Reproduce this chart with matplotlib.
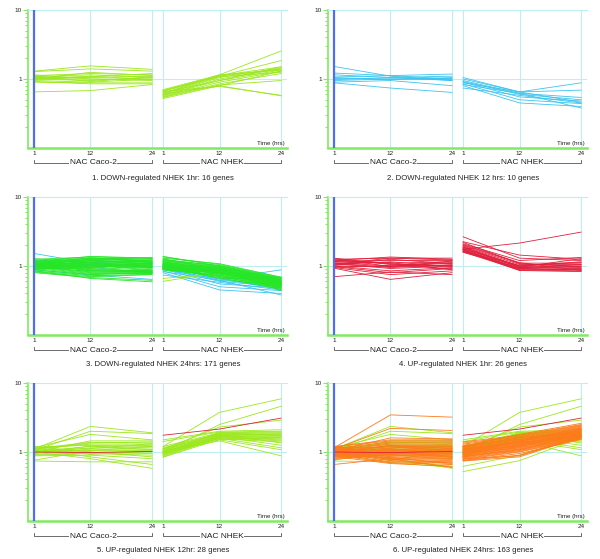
import matplotlib
matplotlib.use("Agg")
import matplotlib.pyplot as plt
from matplotlib.ticker import LogLocator, NullFormatter

plt.rcParams['font.family'] = ['Liberation Sans', 'DejaVu Sans']

# time points (hrs) and the shift that puts the NHEK block right of Caco-2
hours = [1, 12, 24]
NHEK_SHIFT = 25.15

# each row = one gene: Caco-2 (1, 12, 24 h) then NHEK (1, 12, 24 h), fold change
down_1hr = [
    [1.30, 1.55, 1.38, 0.62, 1.15, 2.55],
    [1.28, 1.40, 1.30, 0.66, 1.10, 1.85],
    [1.12, 1.20, 1.15, 0.68, 1.12, 1.50],
    [1.08, 1.15, 1.05, 0.60, 1.05, 1.45],
    [1.05, 1.05, 1.10, 0.58, 1.00, 1.40],
    [1.02, 1.00, 1.00, 0.64, 0.95, 1.35],
    [1.00, 0.95, 1.05, 0.56, 0.90, 1.30],
    [0.98, 1.10, 0.98, 0.62, 1.08, 1.25],
    [0.95, 0.90, 1.00, 0.55, 0.85, 1.20],
    [0.92, 0.85, 0.85, 0.52, 0.80, 1.30],
    [1.15, 1.00, 0.95, 0.66, 0.78, 0.58],
    [1.10, 0.92, 1.08, 0.60, 0.80, 0.57],
    [0.65, 0.68, 0.83, 0.54, 0.82, 0.95],
    [1.05, 1.08, 1.20, 0.68, 1.10, 1.40],
    [0.90, 0.88, 0.88, 0.58, 0.95, 1.50],
    [1.00, 1.25, 1.12, 0.70, 1.15, 1.35],
]

down_12hr = [
    [1.52, 1.10, 0.95, 1.05, 0.65, 0.88],
    [1.22, 1.12, 1.18, 1.00, 0.65, 0.69],
    [1.15, 1.05, 1.10, 0.95, 0.62, 0.54],
    [1.07, 1.12, 1.00, 0.92, 0.60, 0.50],
    [1.02, 1.00, 1.02, 0.90, 0.55, 0.48],
    [0.98, 1.05, 0.95, 0.88, 0.65, 0.46],
    [0.90, 0.95, 0.80, 0.85, 0.50, 0.44],
    [0.88, 0.74, 0.64, 0.80, 0.45, 0.40],
    [1.05, 0.98, 1.05, 0.74, 0.58, 0.45],
    [0.95, 1.00, 0.98, 0.83, 0.62, 0.38],
]

down_24hr = [
    [1.25, 1.35, 1.30, 1.35, 1.05, 0.68],
    [1.20, 1.30, 1.25, 1.25, 1.00, 0.66],
    [1.15, 1.28, 1.20, 1.20, 0.98, 0.65],
    [1.12, 1.25, 1.18, 1.15, 0.95, 0.64],
    [1.10, 1.20, 1.15, 1.12, 0.92, 0.62],
    [1.08, 1.18, 1.12, 1.10, 0.90, 0.60],
    [1.05, 1.15, 1.10, 1.08, 0.88, 0.58],
    [1.02, 1.12, 1.08, 1.05, 0.86, 0.57],
    [1.00, 1.10, 1.05, 1.02, 0.85, 0.56],
    [0.98, 1.08, 1.02, 1.00, 0.84, 0.55],
    [0.95, 1.05, 1.00, 0.98, 0.82, 0.54],
    [0.92, 1.02, 0.98, 0.96, 0.80, 0.53],
    [0.90, 1.00, 0.95, 0.94, 0.78, 0.52],
    [1.10, 0.88, 0.85, 1.05, 0.95, 0.62],
    [1.05, 0.85, 0.83, 1.00, 0.90, 0.60],
    [1.00, 0.82, 0.82, 0.98, 0.88, 0.59],
    [0.98, 0.80, 0.80, 0.95, 0.86, 0.58],
    [0.95, 0.78, 0.79, 0.93, 0.84, 0.56],
    [0.92, 0.76, 0.78, 0.92, 0.82, 0.55],
    [0.88, 0.75, 0.80, 0.90, 0.80, 0.54],
    [0.85, 0.72, 0.76, 0.88, 0.76, 0.52],
    [0.82, 0.70, 0.75, 0.90, 0.72, 0.50],
    [0.80, 0.68, 0.62, 0.95, 0.70, 0.48],
    [0.85, 0.66, 0.59, 0.92, 0.68, 0.46],
    [1.28, 1.10, 0.95, 1.30, 1.08, 0.69],
    [1.18, 1.02, 0.88, 1.22, 1.02, 0.67],
    [0.95, 1.20, 1.28, 1.18, 0.96, 0.63],
    [0.88, 1.15, 1.22, 1.12, 0.93, 0.61],
    [1.12, 0.95, 1.10, 1.06, 0.87, 0.60],
    [1.00, 0.92, 1.12, 1.04, 0.83, 0.58],
    [1.06, 1.00, 0.92, 1.00, 0.79, 0.57],
    [0.93, 0.95, 0.87, 0.97, 0.77, 0.55],
    [1.15, 1.38, 1.30, 1.38, 1.00, 0.63],
    [1.03, 1.25, 1.32, 1.10, 0.74, 0.51],
    [0.97, 0.90, 0.84, 1.02, 0.70, 0.50],
    [1.08, 0.86, 0.81, 0.99, 0.66, 0.49],
    [0.90, 1.05, 0.99, 0.89, 0.73, 0.53],
    [1.02, 1.32, 1.15, 0.91, 0.81, 0.60],
    [0.96, 0.84, 0.86, 1.16, 0.85, 0.47],
    [1.14, 1.22, 1.06, 1.27, 0.89, 0.44],
]

up_1hr = [
    [1.30, 1.05, 1.00, 2.65, 1.30, 1.20],
    [1.25, 1.30, 1.30, 2.25, 1.44, 1.25],
    [1.20, 1.35, 1.25, 2.10, 1.20, 1.33],
    [1.18, 1.20, 1.20, 2.00, 1.10, 1.10],
    [1.15, 1.10, 1.15, 1.95, 1.05, 1.05],
    [1.12, 1.00, 1.10, 1.90, 1.00, 1.00],
    [1.10, 0.95, 1.05, 1.85, 0.98, 0.95],
    [1.08, 0.92, 1.00, 1.80, 0.95, 0.92],
    [1.05, 1.15, 0.98, 1.78, 1.00, 1.15],
    [1.02, 1.25, 1.08, 1.75, 0.92, 0.90],
    [1.00, 0.85, 0.95, 1.72, 0.90, 0.88],
    [0.98, 0.80, 0.92, 1.70, 0.88, 0.85],
    [0.95, 0.75, 0.85, 1.68, 0.86, 0.83],
    [0.93, 0.64, 0.80, 1.65, 0.92, 1.00],
    [0.70, 0.82, 0.75, 1.62, 1.02, 1.12],
    [1.22, 1.08, 0.90, 1.60, 0.87, 0.90],
    [1.28, 0.98, 1.18, 2.20, 1.08, 0.98],
    [1.16, 1.12, 0.88, 1.88, 0.96, 1.28],
    [1.06, 1.30, 1.22, 2.05, 1.12, 0.86],
    [0.96, 1.02, 1.12, 1.58, 0.94, 1.05],
    [1.00, 0.98, 1.02, 1.75, 2.15, 3.10],
]

up_12hr = [
    [1.10, 2.35, 1.90, 1.20, 3.75, 5.90],
    [1.05, 2.00, 1.85, 1.00, 2.50, 4.60],
    [1.15, 1.80, 1.50, 1.10, 2.30, 2.90],
    [1.00, 1.45, 1.45, 1.50, 2.00, 2.10],
    [1.08, 1.35, 1.40, 1.42, 1.95, 2.00],
    [1.12, 1.30, 1.30, 1.20, 1.90, 1.95],
    [1.18, 1.25, 1.20, 1.15, 1.85, 1.90],
    [1.02, 1.20, 1.25, 1.10, 1.80, 1.85],
    [0.98, 1.15, 1.15, 1.05, 1.78, 1.80],
    [0.95, 1.10, 1.10, 1.00, 1.75, 1.75],
    [1.06, 1.05, 1.05, 0.98, 1.72, 1.70],
    [1.04, 1.00, 1.00, 0.95, 1.70, 1.65],
    [0.92, 0.98, 0.95, 0.92, 1.68, 1.60],
    [0.90, 0.95, 0.90, 0.90, 1.65, 1.55],
    [1.20, 1.00, 0.85, 0.88, 1.62, 1.50],
    [0.88, 0.90, 0.80, 0.85, 1.60, 1.45],
    [0.74, 0.72, 0.72, 1.05, 1.55, 1.40],
    [1.10, 0.85, 0.66, 1.00, 1.58, 1.15],
    [1.00, 0.80, 0.58, 0.95, 1.50, 1.08],
    [0.76, 1.05, 1.20, 1.02, 1.45, 0.88],
    [1.12, 1.38, 1.35, 1.12, 1.82, 1.35],
    [0.96, 1.22, 1.08, 0.84, 1.52, 1.62],
    [1.06, 1.12, 1.32, 1.08, 1.68, 1.25],
    [1.14, 0.92, 1.02, 0.96, 1.92, 1.72],
]

up_24hr_extra_yg = [
    [1.00, 0.75, 0.62, 0.52, 0.75, 1.60],
    [0.95, 0.70, 0.60, 0.62, 0.90, 1.75],
]

up_24hr = [
    [1.15, 3.45, 3.20, 1.20, 1.80, 2.60],
    [1.10, 2.20, 2.05, 1.40, 1.75, 2.50],
    [1.05, 1.60, 1.55, 1.35, 1.70, 2.45],
    [1.20, 1.50, 1.50, 1.30, 1.65, 2.40],
    [1.18, 1.45, 1.45, 1.25, 1.60, 2.35],
    [1.12, 1.40, 1.40, 1.20, 1.55, 2.30],
    [1.08, 1.35, 1.35, 1.18, 1.50, 2.25],
    [1.05, 1.30, 1.30, 1.15, 1.45, 2.20],
    [1.02, 1.25, 1.25, 1.12, 1.42, 2.15],
    [1.00, 1.20, 1.20, 1.10, 1.40, 2.10],
    [0.98, 1.15, 1.18, 1.08, 1.38, 2.05],
    [0.95, 1.10, 1.15, 1.05, 1.35, 2.00],
    [0.92, 1.08, 1.10, 1.02, 1.32, 1.95],
    [0.90, 1.05, 1.05, 1.00, 1.30, 1.90],
    [0.88, 1.02, 1.00, 0.98, 1.28, 1.85],
    [0.85, 1.00, 0.98, 0.96, 1.25, 1.80],
    [0.82, 0.98, 0.95, 0.94, 1.22, 1.78],
    [0.80, 0.95, 0.92, 0.92, 1.20, 1.75],
    [0.78, 0.92, 0.90, 0.90, 1.18, 1.72],
    [1.22, 0.90, 0.88, 0.88, 1.15, 1.70],
    [1.20, 0.88, 0.85, 0.86, 1.12, 1.68],
    [1.16, 0.85, 0.82, 0.85, 1.10, 1.65],
    [1.10, 0.82, 0.80, 0.84, 1.08, 1.62],
    [1.06, 0.80, 0.78, 0.82, 1.05, 1.60],
    [1.02, 0.78, 0.75, 0.80, 1.02, 1.58],
    [0.98, 0.75, 0.72, 0.78, 1.00, 1.55],
    [0.94, 0.72, 0.70, 0.76, 0.95, 1.52],
    [0.90, 0.70, 0.66, 0.75, 0.90, 1.60],
    [0.86, 0.68, 0.62, 0.74, 0.85, 1.65],
    [0.66, 0.80, 0.60, 0.80, 0.88, 1.70],
    [1.14, 1.18, 1.05, 1.22, 1.52, 1.98],
    [1.04, 1.12, 0.94, 1.06, 1.44, 2.08],
    [0.96, 0.96, 1.08, 0.97, 1.26, 1.88],
    [1.09, 1.06, 0.86, 1.13, 1.34, 1.76],
    [0.91, 0.87, 0.97, 0.91, 1.16, 2.02],
    [1.01, 1.24, 1.12, 1.03, 1.46, 2.22],
    [0.87, 0.83, 0.68, 0.87, 1.06, 1.84],
    [1.17, 0.93, 1.14, 1.17, 1.62, 1.92],
    [0.97, 1.01, 0.83, 0.95, 1.24, 2.12],
    [1.07, 0.77, 1.02, 1.01, 1.36, 1.74],
]

titles = [
    "1. DOWN-regulated NHEK 1hr: 16 genes",
    "2. DOWN-regulated NHEK 12 hrs: 10 genes",
    "3. DOWN-regulated NHEK 24hrs: 171 genes",
    "4. UP-regulated NHEK 1hr: 26 genes",
    "5. UP-regulated NHEK 12hr: 28 genes",
    "6. UP-regulated NHEK 24hrs: 163 genes",
]

YG = '#9be81c'
BLUE_L = '#3cc4ee'
GREEN = '#26e626'
RED = '#e0203c'
ORANGE = '#ff7a1a'
AXIS_GREEN = '#80ea60'
GRID = '#bfeeee'
AXIS_BLUE = '#4d6ef5'

# genes shared between clusters
down_1hr_late = [r for r in down_1hr if r[5] < 0.7]
up_1hr_rising = [r for r in up_1hr if r[5] > 2]

panels = [
    [(down_1hr, YG)],
    [(down_12hr, BLUE_L)],
    [(down_12hr, BLUE_L), (down_1hr_late, YG), (down_24hr, GREEN)],
    [(up_1hr, RED)],
    [(up_12hr, YG), (up_1hr_rising, RED)],
    [(up_12hr, YG), (up_24hr_extra_yg, YG), (up_24hr, ORANGE), (up_1hr_rising, RED)],
]

W, H = 600, 559
fig = plt.figure(figsize=(W / 100, H / 100), dpi=100)

col_x = [0, 300]
row_y = [0, 187, 373]
nhek_x = [h + NHEK_SHIFT for h in hours]


def draw_panel(ox, oy, groups, title):
    left, right, top, bottom = ox + 28, ox + 287, oy + 10, oy + 148
    ax = fig.add_axes([left / W, 1 - bottom / H, (right - left) / W, (bottom - top) / H])
    ax.set_yscale('log')
    ax.set_ylim(0.1, 10)
    ax.set_xlim(-0.17, 50.3)

    # grid
    for x in [12, 24] + nhek_x:
        ax.axvline(x, color=GRID, lw=0.8, zorder=0)
    ax.axhline(1, color=GRID, lw=0.8, zorder=0)

    for rows, color in groups:
        for r in rows:
            ax.plot(hours, r[:3], color=color, lw=0.6, zorder=2)
            ax.plot(nhek_x, r[3:], color=color, lw=0.6, zorder=2)

    ax.axvline(1, color=AXIS_BLUE, lw=1.6, zorder=3)

    ax.spines['right'].set_visible(False)
    ax.spines['top'].set_color(GRID)
    ax.spines['top'].set_linewidth(0.8)
    ax.spines['left'].set_color(AXIS_GREEN)
    ax.spines['left'].set_linewidth(1.2)
    ax.spines['bottom'].set_color(AXIS_GREEN)
    ax.spines['bottom'].set_linewidth(1.8)

    ax.set_yticks([1, 10])
    ax.set_yticklabels(['1', '10'])
    ax.yaxis.set_minor_locator(LogLocator(base=10, subs=range(2, 10)))
    ax.yaxis.set_minor_formatter(NullFormatter())
    ax.tick_params(axis='y', which='major', length=3.5, width=0.8, color=AXIS_GREEN,
                   labelsize=4.6, pad=1, labelcolor='#222222')
    ax.tick_params(axis='y', which='minor', length=2.2, width=0.7, color=AXIS_GREEN)

    ax.set_xticks(hours + nhek_x)
    ax.set_xticklabels([str(h) for h in hours] * 2)
    ax.tick_params(axis='x', length=0, pad=2.5, labelsize=4.6, labelcolor='#222222')

    ax.text(0.99, 0.015, 'Time (hrs)', transform=ax.transAxes, ha='right', va='bottom',
            fontsize=4.4, color='#222222')

    trans = ax.get_xaxis_transform()
    y_line, y_top = -15 / 138, -12 / 138
    for xs, label in [(hours, 'NAC Caco-2'), (nhek_x, 'NAC NHEK')]:
        ax.plot([xs[0], xs[0], xs[-1], xs[-1]], [y_top, y_line, y_line, y_top],
                transform=trans, clip_on=False, color='#555555', lw=0.6)
        ax.text((xs[0] + xs[-1]) / 2, y_line, label, transform=trans, ha='center',
                va='center', fontsize=6, color='#222222',
                bbox=dict(facecolor='white', edgecolor='none', pad=0.6))

    fig.text((ox + 163) / W, 1 - (oy + 178) / H, title, ha='center', va='center',
             fontsize=5.6, color='#222222')


for i, groups in enumerate(panels):
    draw_panel(col_x[i % 2], row_y[i // 2], groups, titles[i])

fig.savefig('out.png', dpi=100)
